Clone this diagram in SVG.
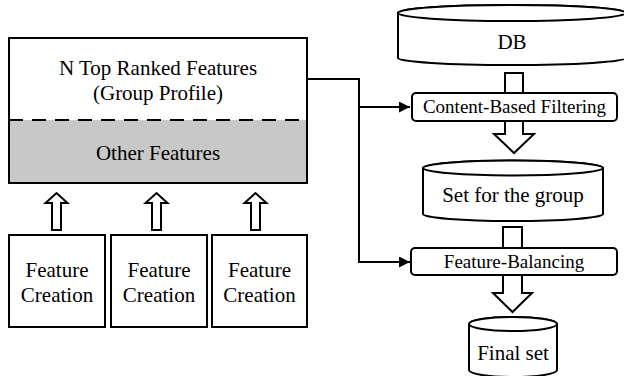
<svg xmlns="http://www.w3.org/2000/svg" width="624" height="376" viewBox="0 0 624 376">
  <style>
    .big { font-size: 21px; }
    .mid { font-size: 19px; }
    .box { fill: #fff; stroke: #000; stroke-width: 2; }
    .blk { fill: #fff; stroke: #000; stroke-width: 2; stroke-linejoin: miter; }
    .line { fill: none; stroke: #000; stroke-width: 2; }
  </style>
  <defs>
    <marker id="tri" viewBox="0 0 10 10" refX="10" refY="5" markerWidth="6" markerHeight="5.5" markerUnits="strokeWidth" orient="auto">
      <path d="M0,0 L10,5 L0,10 Z" fill="#000"/>
    </marker>
  </defs>

  <g font-family="Liberation Serif, DejaVu Serif, serif" fill="#000" text-anchor="middle">

  <!-- profile block -->
  <g id="profile">
    <rect x="9" y="38" width="298" height="145" fill="#fff"/>
    <rect x="9" y="120" width="298" height="63" fill="#c9c8c8"/>
    <rect x="9" y="38" width="298" height="145" fill="none" stroke="#000" stroke-width="2"/>
    <line x1="9" y1="120" x2="307" y2="120" stroke="#000" stroke-width="2" stroke-dasharray="14,9"/>
    <text class="big" x="158" y="75">N Top Ranked Features</text>
    <text class="big" x="158" y="100">(Group Profile)</text>
    <text class="big" x="158" y="160">Other Features</text>
  </g>

  <!-- feature creation units -->
  <g id="fc1">
    <rect class="box" x="9" y="235" width="96" height="92"/>
    <text class="big" x="57" y="277">Feature</text>
    <text class="big" x="57" y="302">Creation</text>
  </g>
  <g id="fc2">
    <rect class="box" x="111" y="235" width="96" height="92"/>
    <text class="big" x="159" y="277">Feature</text>
    <text class="big" x="159" y="302">Creation</text>
  </g>
  <g id="fc3">
    <rect class="box" x="212" y="235" width="95" height="92"/>
    <text class="big" x="259.5" y="277">Feature</text>
    <text class="big" x="259.5" y="302">Creation</text>
  </g>

  <!-- hollow block arrows -->
  <g id="block-arrows">
    <path class="blk" d="M52,230 V203 H45.5 L56.5,193 L67.5,203 H61 V230 Z"/>
    <path class="blk" d="M152,230 V203 H145.5 L156.5,193 L167.5,203 H161 V230 Z"/>
    <path class="blk" d="M251,230 V203 H244.5 L255.5,193 L266.5,203 H260 V230 Z"/>
    <path class="blk" d="M505,73 V134 H494 L514,153 L534,134 H523 V73 Z"/>
    <path class="blk" d="M503,227 V293 H493 L512.5,312 L532,293 H522 V227 Z"/>
  </g>

  <!-- line connectors -->
  <g id="connectors">
    <polyline class="line" points="307,79 359,79 359,262"/>
    <line class="line" x1="359" y1="107" x2="410" y2="107" marker-end="url(#tri)"/>
    <line class="line" x1="358" y1="262" x2="410" y2="262" marker-end="url(#tri)"/>
  </g>

  <!-- DB store -->
  <g id="db">
    <path class="box" d="M398,13 V58 A114,7 0 0 0 626,58 V13 A114,8 0 0 0 398,13 Z"/>
    <ellipse class="box" cx="512" cy="13" rx="114" ry="8"/>
    <text class="big" x="512" y="49">DB</text>
  </g>

  <!-- filtering step -->
  <g id="cbf">
    <rect class="box" x="412" y="93" width="205" height="28" rx="4"/>
    <text class="mid" x="514.5" y="113">Content-Based Filtering</text>
  </g>

  <!-- group set store -->
  <g id="groupset">
    <path class="box" d="M423,168 V214 A90,7 0 0 0 603,214 V168 A90,7.5 0 0 0 423,168 Z"/>
    <ellipse class="box" cx="513" cy="168" rx="90" ry="7.5"/>
    <text class="big" x="513" y="202">Set for the group</text>
  </g>

  <!-- balancing step -->
  <g id="fb">
    <rect class="box" x="411" y="248" width="206" height="27" rx="4"/>
    <text class="mid" x="514" y="268">Feature-Balancing</text>
  </g>

  <!-- final set store -->
  <g id="finalset">
    <path class="box" d="M469,324 V370 A44,7 0 0 0 557,370 V324 A44,7 0 0 0 469,324 Z"/>
    <ellipse class="box" cx="513" cy="324" rx="44" ry="7"/>
    <text class="big" x="513" y="360">Final set</text>
  </g>

  </g>
</svg>
